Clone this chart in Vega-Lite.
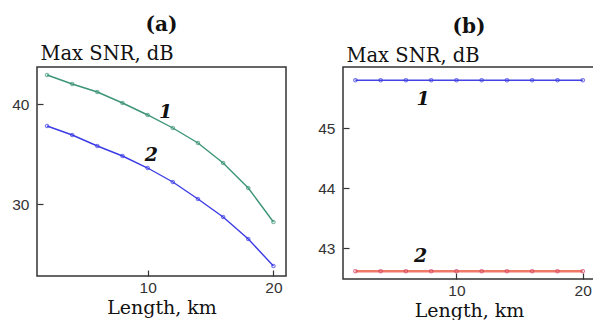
{
  "$schema": "https://vega.github.io/schema/vega-lite/v6.json",
  "padding": {"left": 11, "top": 14, "right": 0, "bottom": 0},
  "background": "white",
  "spacing": 57,
  "bounds": "flush",
  "config": {
    "view": {"stroke": "#333", "strokeWidth": 1.5},
    "axis": {
      "grid": false,
      "domain": false,
      "tickSize": -6,
      "tickColor": "#333",
      "tickWidth": 1.2,
      "labelFont": "Liberation Sans",
      "labelFontSize": 15.5,
      "labelColor": "#333",
      "titleFont": "DejaVu Serif",
      "titleFontSize": 19,
      "titleFontWeight": "normal",
      "titleColor": "#111"
    },
    "title": {"font": "DejaVu Serif", "fontSize": 20, "fontWeight": "bold", "color": "#111", "offset": 8}
  },
  "datasets": {
    "a": [
      {"length": 2, "snr": 42.9, "curve": "1"},
      {"length": 4, "snr": 42.0, "curve": "1"},
      {"length": 6, "snr": 41.2, "curve": "1"},
      {"length": 8, "snr": 40.1, "curve": "1"},
      {"length": 10, "snr": 38.9, "curve": "1"},
      {"length": 12, "snr": 37.6, "curve": "1"},
      {"length": 14, "snr": 36.1, "curve": "1"},
      {"length": 16, "snr": 34.1, "curve": "1"},
      {"length": 18, "snr": 31.6, "curve": "1"},
      {"length": 20, "snr": 28.2, "curve": "1"},
      {"length": 2, "snr": 37.8, "curve": "2"},
      {"length": 4, "snr": 36.9, "curve": "2"},
      {"length": 6, "snr": 35.8, "curve": "2"},
      {"length": 8, "snr": 34.8, "curve": "2"},
      {"length": 10, "snr": 33.6, "curve": "2"},
      {"length": 12, "snr": 32.2, "curve": "2"},
      {"length": 14, "snr": 30.5, "curve": "2"},
      {"length": 16, "snr": 28.7, "curve": "2"},
      {"length": 18, "snr": 26.5, "curve": "2"},
      {"length": 20, "snr": 23.8, "curve": "2"}
    ],
    "b": [
      {"length": 2, "snr": 45.8, "curve": "1"},
      {"length": 4, "snr": 45.8, "curve": "1"},
      {"length": 6, "snr": 45.8, "curve": "1"},
      {"length": 8, "snr": 45.8, "curve": "1"},
      {"length": 10, "snr": 45.8, "curve": "1"},
      {"length": 12, "snr": 45.8, "curve": "1"},
      {"length": 14, "snr": 45.8, "curve": "1"},
      {"length": 16, "snr": 45.8, "curve": "1"},
      {"length": 18, "snr": 45.8, "curve": "1"},
      {"length": 20, "snr": 45.8, "curve": "1"},
      {"length": 2, "snr": 42.62, "curve": "2"},
      {"length": 4, "snr": 42.62, "curve": "2"},
      {"length": 6, "snr": 42.62, "curve": "2"},
      {"length": 8, "snr": 42.62, "curve": "2"},
      {"length": 10, "snr": 42.62, "curve": "2"},
      {"length": 12, "snr": 42.62, "curve": "2"},
      {"length": 14, "snr": 42.62, "curve": "2"},
      {"length": 16, "snr": 42.62, "curve": "2"},
      {"length": 18, "snr": 42.62, "curve": "2"},
      {"length": 20, "snr": 42.62, "curve": "2"}
    ],
    "labelsA": [
      {"length": 11.43, "snr": 39.2, "curve": "1"},
      {"length": 10.3, "snr": 34.9, "curve": "2"}
    ],
    "labelsB": [
      {"length": 7.37, "snr": 45.49, "curve": "1"},
      {"length": 7.17, "snr": 42.88, "curve": "2"}
    ]
  },
  "hconcat": [
    {
      "title": "(a)",
      "width": 249,
      "height": 209,
      "encoding": {
        "x": {"field": "length", "type": "quantitative", "scale": {"domain": [1.2, 21], "nice": false, "zero": false},
          "axis": {"title": "Length, km", "values": [10, 20], "labelPadding": 10, "titlePadding": 3}},
        "y": {"field": "snr", "type": "quantitative", "scale": {"domain": [22.8, 43.7], "nice": false, "zero": false},
          "axis": {"title": "Max SNR, dB", "titleFontSize": 19.5, "values": [30, 40], "labelPadding": 14, "titleAngle": 0, "titleAlign": "left", "titleBaseline": "alphabetic", "titleX": 3, "titleY": -8}}
      },
      "layer": [
        {"data": {"name": "a"}, "mark": {"type": "line", "strokeWidth": 1.4},
          "encoding": {"color": {"field": "curve", "type": "nominal", "scale": {"domain": ["1", "2"], "range": ["#3d9478", "#3c3ce6"]}, "legend": null}}},
        {"data": {"name": "a"}, "mark": {"type": "point", "shape": "circle", "filled": false, "size": 12, "strokeWidth": 1.1},
          "encoding": {"color": {"field": "curve", "type": "nominal", "scale": {"domain": ["1", "2"], "range": ["#3d9478", "#3c3ce6"]}, "legend": null}}},
        {"data": {"name": "labelsA"}, "mark": {"type": "text", "font": "DejaVu Serif", "fontStyle": "italic", "fontWeight": "bold", "fontSize": 19, "color": "#111", "baseline": "middle", "align": "center"},
          "encoding": {"text": {"field": "curve"}}}
      ]
    },
    {
      "title": "(b)",
      "width": 252,
      "height": 212,
      "encoding": {
        "x": {"field": "length", "type": "quantitative", "scale": {"domain": [1.02, 20.97], "nice": false, "zero": false},
          "axis": {"title": "Length, km", "values": [10, 20], "labelPadding": 10, "titlePadding": 3}},
        "y": {"field": "snr", "type": "quantitative", "scale": {"domain": [42.49, 46.02], "nice": false, "zero": false},
          "axis": {"title": "Max SNR, dB", "titleFontSize": 19.5, "values": [43, 44, 45], "labelPadding": 14, "titleAngle": 0, "titleAlign": "left", "titleBaseline": "alphabetic", "titleX": 3, "titleY": -6}}
      },
      "layer": [
        {"data": {"name": "b"}, "mark": {"type": "line"},
          "encoding": {
            "color": {"field": "curve", "type": "nominal", "scale": {"domain": ["1", "2"], "range": ["#4444e4", "#f07866"]}, "legend": null},
            "strokeWidth": {"field": "curve", "type": "nominal", "scale": {"domain": ["1", "2"], "range": [1.4, 2.6]}, "legend": null}}},
        {"data": {"name": "b"}, "mark": {"type": "point", "shape": "circle", "filled": false, "size": 12, "strokeWidth": 1.1},
          "encoding": {"stroke": {"field": "curve", "type": "nominal", "scale": {"domain": ["1", "2"], "range": ["#3c3ce0", "#d03a66"]}, "legend": null}}},
        {"data": {"name": "labelsB"}, "mark": {"type": "text", "font": "DejaVu Serif", "fontStyle": "italic", "fontWeight": "bold", "fontSize": 19, "color": "#111", "baseline": "middle", "align": "center"},
          "encoding": {"text": {"field": "curve"}}}
      ],
      "resolve": {"scale": {"color": "independent", "stroke": "independent"}}
    }
  ]
}
